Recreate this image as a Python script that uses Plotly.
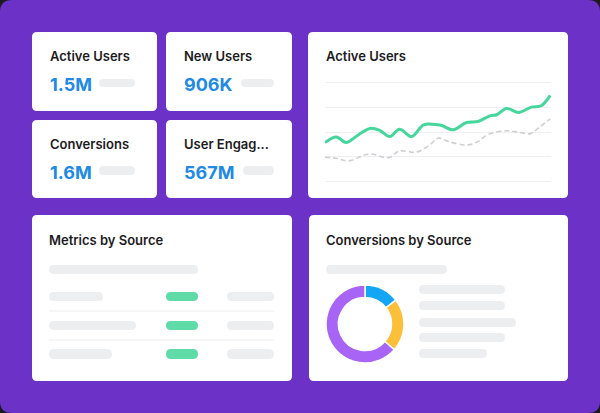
import plotly.graph_objects as go

W, H = 600, 413

# ---- data ----
kpi_labels = ["Active Users", "New Users", "Conversions", "User Engag..."]
kpi_values = ["1.5M", "906K", "1.6M", "567M"]

line_title = "Active Users"
green_x = [0, 1.5, 2.8, 4.5, 6.1, 7.3, 8.6, 9.9, 11.5, 13.1, 15, 15.5, 17, 18.8, 20.3, 21.9, 22.8, 24.1, 25.7, 27.4, 28.7, 29.9]
green_y = [39.2, 45.0, 39.2, 47.5, 53.9, 51.5, 45.3, 52.9, 45.3, 57.3, 57.3, 56.6, 52.2, 59.7, 60.7, 66.5, 67.6, 74.0, 69.9, 75.4, 76.8, 87.3]
gray_x = [0, 1.5, 3.1, 5.9, 8.4, 9.9, 12.1, 13.9, 15, 16.4, 18.8, 20.3, 21.7, 24.1, 25.7, 27.2, 28.3, 29.9]
gray_y = [24.3, 23.2, 20.5, 27.6, 23.8, 30.7, 29.4, 36.8, 43.7, 40.2, 36.8, 40.2, 47.8, 51.2, 49.8, 48.1, 53.9, 63.5]

table_title = "Metrics by Source"
donut_title = "Conversions by Source"
donut_labels = ["Source A", "Source B", "Source C"]
donut_values = [14.5, 22, 63.5]
donut_colors = ["#13A6F5", "#FBBF3A", "#A864F5"]

PURPLE = "#6C31C7"
DARK = "#1C1C1E"
BLUE = "#2189E6"
PILL = "#EDEEF0"
GREENPILL = "#5FDBA7"
FONT = "Inter"


def px(x):
    return x / W


def py(y):
    return 1 - y / H


def rrect(x0, y0, x1, y1, r, color):
    # rounded rectangle in pixel coords -> paper path
    def P(x, y):
        return f"{px(x):.5f},{py(y):.5f}"
    path = (
        f"M {P(x0 + r, y0)} L {P(x1 - r, y0)} Q {P(x1, y0)} {P(x1, y0 + r)} "
        f"L {P(x1, y1 - r)} Q {P(x1, y1)} {P(x1 - r, y1)} "
        f"L {P(x0 + r, y1)} Q {P(x0, y1)} {P(x0, y1 - r)} "
        f"L {P(x0, y0 + r)} Q {P(x0, y0)} {P(x0 + r, y0)} Z"
    )
    return dict(type="path", xref="paper", yref="paper", path=path,
                fillcolor=color, line=dict(width=0), layer="below")


def pill(x0, y0, x1, y1, color=PILL):
    return rrect(x0, y0, x1, y1, (y1 - y0) / 2, color)


shapes = []
# background
shapes.append(rrect(0, 0, W, H, 12, PURPLE))
# cards
cards = [(32, 32, 157, 111), (166, 32, 292, 111), (32, 120, 157, 198), (166, 120, 292, 198),
         (308, 32, 568, 198), (32, 215, 292, 381), (309, 215, 568, 381)]
for c in cards:
    shapes.append(rrect(*c, 5, "white"))

# KPI pills
kpi_pills = [(99, 79, 135, 87), (241, 79, 274, 87), (99, 166, 135, 175), (243, 166, 274, 175)]
for p in kpi_pills:
    shapes.append(pill(*p))

# metrics table skeleton
shapes.append(pill(49, 265, 198, 274))
row_y = [(292, 301), (321, 330), (349, 359)]
left_ends = [103, 136, 112]
for (a, b), le in zip(row_y, left_ends):
    shapes.append(pill(49, a, le, b))
    shapes.append(pill(166, a, 198, b, GREENPILL))
    shapes.append(pill(227, a, 274, b))
for yy in (311, 340):
    shapes.append(dict(type="line", xref="paper", yref="paper", x0=px(49), x1=px(274),
                       y0=py(yy), y1=py(yy), line=dict(color="#EEEEF0", width=1), layer="below"))

# donut card skeleton
shapes.append(pill(326, 265, 447, 274))
legend_rows = [(285, 294, 505), (301, 310, 505), (318, 327, 516), (333, 342, 505), (349, 358, 487)]
for a, b, e in legend_rows:
    shapes.append(pill(419, a, e, b))

annotations = []


def text(x, y, s, size, color, weight=700):
    annotations.append(dict(x=px(x), y=py(y), xref="paper", yref="paper", text=s,
                            showarrow=False, xanchor="left", yanchor="middle",
                            font=dict(family=FONT, size=size, color=color, weight=weight)))


kpi_pos = [(48, 56, 84), (182, 56, 84), (48, 144, 172), (182, 144, 172)]
for (x, ty, vy), lab, val in zip(kpi_pos, kpi_labels, kpi_values):
    text(x, ty, lab, 13, DARK, 600)
    text(x, vy, val, 18, BLUE, 700)

text(324, 56, line_title, 13, DARK, 600)
text(47, 240, table_title, 13, DARK, 600)
text(324, 240, donut_title, 13, DARK, 600)

fig = go.Figure()
fig.add_trace(go.Scatter(x=gray_x, y=gray_y, mode="lines", line=dict(color="#CFCFD3", width=1.6, dash="5px,3px", shape="spline", smoothing=1.0),
                         hoverinfo="skip", cliponaxis=False, showlegend=False))
fig.add_trace(go.Scatter(x=green_x, y=green_y, mode="lines", line=dict(color="#44D69A", width=3, shape="spline", smoothing=1.0),
                         hoverinfo="skip", cliponaxis=False, showlegend=False))
fig.add_trace(go.Pie(labels=donut_labels, values=donut_values, hole=0.68, sort=False, direction="clockwise",
                     rotation=0, marker=dict(colors=donut_colors, line=dict(color="white", width=1.5)),
                     textinfo="none", hoverinfo="skip", showlegend=False,
                     domain=dict(x=[px(326), px(404)], y=[py(363), py(285)])))

fig.update_layout(
    width=W, height=H, margin=dict(l=0, r=0, t=0, b=0),
    paper_bgcolor="#1B1B1D", plot_bgcolor="rgba(0,0,0,0)",
    shapes=shapes, annotations=annotations, showlegend=False,
    xaxis=dict(domain=[px(325), px(551)], range=[0, 30], showgrid=False, zeroline=False,
               showticklabels=False, showline=False, fixedrange=True),
    yaxis=dict(domain=[py(183), py(81)], range=[-2, 102], tickvals=[0, 25, 50, 75, 100], showgrid=True,
               gridcolor="#EFEFF1", gridwidth=1, zeroline=False, showticklabels=False, showline=False,
               fixedrange=True),
)

fig.write_html("out.html", config=dict(displayModeBar=False),
               post_script="document.body.style.margin='0';document.body.style.padding='0';")
